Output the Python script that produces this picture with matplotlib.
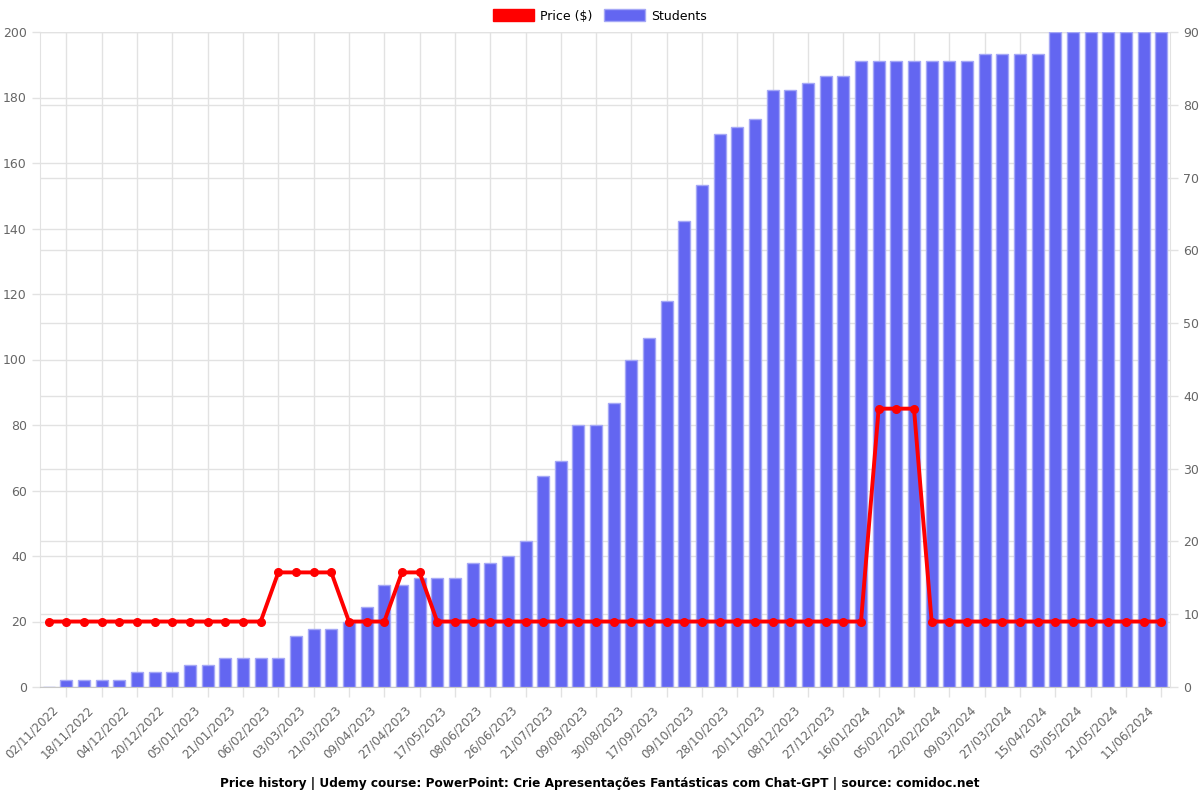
import matplotlib.pyplot as plt
from matplotlib.patches import Patch
from matplotlib.transforms import ScaledTranslation

# every second date is shown on the axis, starting at the second point
tick_labels = ["02/11/2022", "18/11/2022", "04/12/2022", "20/12/2022", "05/01/2023",
               "21/01/2023", "06/02/2023", "03/03/2023", "21/03/2023", "09/04/2023",
               "27/04/2023", "17/05/2023", "08/06/2023", "26/06/2023", "21/07/2023",
               "09/08/2023", "30/08/2023", "17/09/2023", "09/10/2023", "28/10/2023",
               "20/11/2023", "08/12/2023", "27/12/2023", "16/01/2024", "05/02/2024",
               "22/02/2024", "09/03/2024", "27/03/2024", "15/04/2024", "03/05/2024",
               "21/05/2024", "11/06/2024"]

price = [19.99] * 13 + [34.99] * 4 + [19.99] * 3 + [34.99] * 2 + [19.99] * 25 \
    + [84.99] * 3 + [19.99] * 14

students = [0, 1, 1, 1, 1, 2, 2, 2, 3, 3, 4, 4, 4, 4, 7, 8, 8, 9, 11, 14,
            14, 15, 15, 15, 17, 17, 18, 20, 29, 31, 36, 36, 39, 45, 48, 53, 64, 69, 76, 77,
            78, 82, 82, 83, 84, 84, 86, 86, 86, 86, 86, 86, 86, 87, 87, 87, 87, 90, 90, 90,
            90, 90, 90, 90]

x = list(range(len(students)))
tick_pos = x[1::2]

grid_c = "#e2e2e2"
text_c = "#666666"

fig = plt.figure(figsize=(12, 8), dpi=100)
ax = fig.add_axes([0.0333, 0.14125, 0.9417, 0.81875])
ax2 = ax.twinx()

ax2.bar(x, students, width=0.68, color="#6366f1", edgecolor="#a5a8f6", linewidth=1, zorder=2)
ax2.plot(x, price, color="#ff0000", linewidth=2.8, marker="o", markersize=5.5,
         transform=ax.transData, zorder=3, clip_on=False)

ax.set_xlim(-0.5, len(x) - 0.5)
ax.set_ylim(0, 200)
ax2.set_ylim(0, 90)
ax.set_yticks(range(0, 201, 20))
ax2.set_yticks(range(0, 91, 10))
ax.set_xticks(tick_pos)
ax.set_xticklabels([])

# rotated date labels, placed like the original (end of text left of tick)
lab_tr = ax.get_xaxis_transform() + ScaledTranslation(-0.1, -0.21, fig.dpi_scale_trans)
for p, t in zip(tick_pos, tick_labels):
    ax.text(p, 0, t, transform=lab_tr, rotation=45, rotation_mode="anchor",
            ha="right", va="center", fontsize=8.6, color=text_c, clip_on=False)

ax.grid(True, color=grid_c, linewidth=1)
ax2.grid(True, axis="y", color=grid_c, linewidth=1)
ax2.set_axisbelow(True)

for a in (ax, ax2):
    for s in a.spines.values():
        s.set_visible(False)
    a.tick_params(axis="y", colors=text_c, labelsize=9, length=6, width=1)
    a.tick_params(axis="both", color=grid_c)
ax.tick_params(axis="x", length=7, width=1, color=grid_c)
ax.spines["bottom"].set_visible(True)
ax.spines["bottom"].set_color("#c8c8c8")
ax.spines["left"].set_visible(True)
ax.spines["left"].set_color(grid_c)
ax2.spines["right"].set_visible(True)
ax2.spines["right"].set_color(grid_c)

handles = [Patch(facecolor="#ff0000", edgecolor="#ff0000", label="Price ($)"),
           Patch(facecolor="#6366f1", edgecolor="#a5a8f6", label="Students")]
fig.legend(handles=handles, loc="center", bbox_to_anchor=(0.5, 0.98), ncol=2,
           frameon=False, fontsize=9, handlelength=3.3, handleheight=1.1,
           columnspacing=0.9, handletextpad=0.5)

fig.text(0.5, 0.021, "Price history | Udemy course: PowerPoint: Crie Apresentações Fantásticas "
         "com Chat-GPT | source: comidoc.net", ha="center", va="center",
         fontsize=8.7, fontweight="bold")

fig.savefig("out.png", dpi=100)
